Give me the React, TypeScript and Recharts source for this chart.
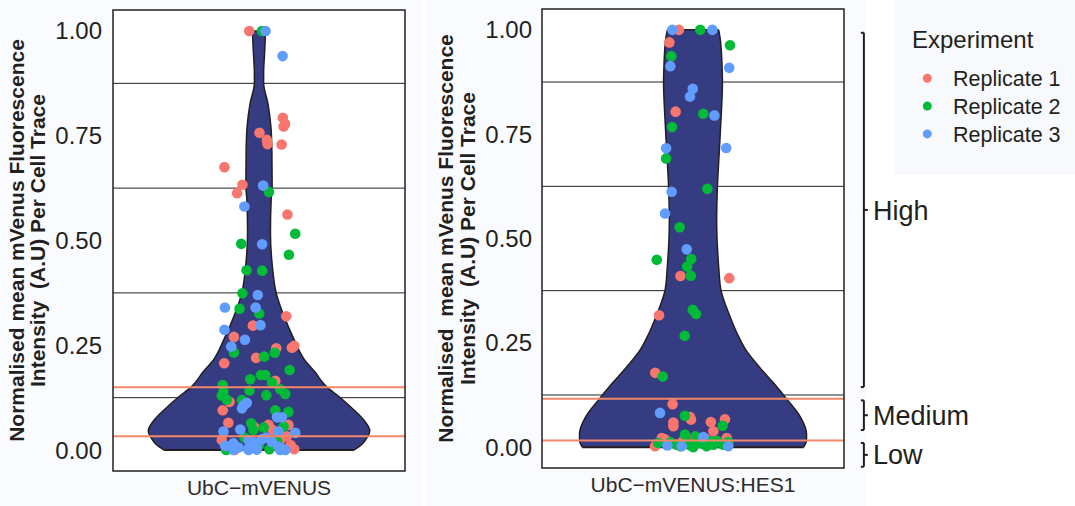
import React from 'react';
import { ComposedChart, Area, Scatter, XAxis, YAxis, ReferenceLine, ReferenceArea, Legend } from 'recharts';

const FONT = '"Liberation Sans", Arial, Helvetica, sans-serif';
const INK = '#231f20';
const VIOLIN_FILL = '#363c82';
const GATE = '#f4866a';
const PAGE_BG = '#f9fbfe';

const categories = ['UbC\u2212mVENUS', 'UbC\u2212mVENUS:HES1'];
const replicateNames = ['Replicate 1', 'Replicate 2', 'Replicate 3'];
const replicateColors = ['#F8766D', '#00BA38', '#619CFF'];
const yTicks = [0, 0.25, 0.5, 0.75, 1];
const thresholdLines = [0.125, 0.375, 0.625, 0.875];
const gateLines1 = [0.15, 0.033];
const gateLines2 = [0.116, 0.016];
const bands = [
  { name: 'High', from: 0.144, to: 0.993 },
  { name: 'Medium', from: 0.041, to: 0.112 },
  { name: 'Low', from: -0.047, to: 0.01 },
];

// violin outlines: [value, half width (category units)]
const violin1: [number, number][] = [
  [1.0, 0.026], [0.995, 0.026], [0.948, 0.023], [0.9, 0.019], [0.875, 0.019],
  [0.829, 0.036], [0.771, 0.049], [0.71, 0.053], [0.629, 0.054], [0.598, 0.05],
  [0.519, 0.047], [0.438, 0.055], [0.376, 0.07], [0.319, 0.103], [0.264, 0.144],
  [0.217, 0.185], [0.186, 0.23], [0.152, 0.276], [0.126, 0.332], [0.098, 0.386],
  [0.074, 0.427], [0.046, 0.455], [0.026, 0.44], [0.012, 0.42], [0.0, 0.39],
];
const violin2: [number, number][] = [
  [1.0, 0.102], [0.975, 0.109], [0.903, 0.116], [0.875, 0.117], [0.783, 0.111],
  [0.704, 0.104], [0.624, 0.097], [0.544, 0.094], [0.433, 0.102], [0.376, 0.111],
  [0.353, 0.122], [0.313, 0.147], [0.273, 0.175], [0.233, 0.21], [0.191, 0.265],
  [0.153, 0.321], [0.112, 0.377], [0.072, 0.427], [0.033, 0.451], [0.017, 0.451],
  [0.0, 0.44],
];

// points: [jitter offset (category units), value]
const p1rep1: [number, number][] = [
  [-0.04, 1.0], [0.098, 0.793], [0.107, 0.778], [0.101, 0.772], [0.002, 0.757],
  [0.032, 0.74], [0.035, 0.73], [0.093, 0.729], [-0.142, 0.675], [-0.068, 0.633],
  [-0.09, 0.613], [0.117, 0.562], [0.112, 0.319], [-0.025, 0.297], [-0.103, 0.27],
  [0.071, 0.243], [0.145, 0.249], [0.135, 0.244], [-0.012, 0.22], [-0.143, 0.207],
  [0.067, 0.165], [-0.121, 0.115], [-0.149, 0.095], [-0.126, 0.065], [0.039, 0.06],
  [0.121, 0.06], [0.057, 0.048], [0.115, 0.033], [-0.153, 0.024], [0.09, 0.026],
  [-0.118, 0.004], [0.145, 0.002], [-0.1, 0.0], [0.13, 0.012], [-0.02, 0.055],
];
const p1rep2: [number, number][] = [
  [0.012, 1.0], [0.041, 0.616], [0.149, 0.516], [-0.073, 0.492], [0.123, 0.466],
  [-0.051, 0.429], [0.013, 0.428], [-0.068, 0.374], [-0.08, 0.337], [0.001, 0.326],
  [-0.103, 0.233], [0.065, 0.232], [0.021, 0.223], [0.126, 0.191], [-0.036, 0.169],
  [0.008, 0.179], [0.026, 0.179], [0.053, 0.161], [-0.149, 0.155], [-0.146, 0.139],
  [-0.039, 0.142], [0.087, 0.145], [0.108, 0.134], [0.03, 0.131], [-0.153, 0.13],
  [-0.132, 0.12], [-0.07, 0.119], [0.067, 0.095], [0.121, 0.091], [-0.032, 0.064],
  [0.019, 0.054], [0.101, 0.056], [-0.023, 0.048], [-0.135, 0.0], [0.043, 0.002],
  [-0.06, 0.03], [0.075, 0.02], [0.0, 0.012],
];
const p1rep3: [number, number][] = [
  [0.027, 1.0], [0.097, 0.94], [0.017, 0.631], [-0.06, 0.581], [0.013, 0.491],
  [-0.005, 0.37], [-0.14, 0.34], [-0.014, 0.34], [0.006, 0.298], [-0.142, 0.287],
  [-0.058, 0.263], [-0.114, 0.247], [-0.05, 0.113], [-0.07, 0.1], [-0.06, 0.108],
  [0.074, 0.078], [0.094, 0.078], [-0.146, 0.044], [-0.077, 0.049], [0.08, 0.044],
  [0.149, 0.041], [-0.105, 0.016], [-0.043, 0.024], [0.012, 0.026], [0.053, 0.02],
  [-0.139, 0.01], [-0.084, 0.006], [-0.043, 0.004], [-0.009, 0.006], [0.08, 0.008],
  [0.101, 0.002], [-0.043, 0.0], [-0.009, 0.001], [0.087, 0.0], [0.108, 0.0],
  [-0.105, 0.0], [0.03, 0.03], [-0.02, 0.018],
];
const p2rep1: [number, number][] = [
  [-0.056, 1.0], [-0.094, 0.97], [-0.069, 0.804], [-0.05, 0.41], [0.144, 0.405],
  [-0.135, 0.316], [-0.15, 0.178], [-0.081, 0.103], [-0.012, 0.072], [-0.008, 0.066],
  [-0.078, 0.059], [-0.078, 0.05], [0.071, 0.06], [0.127, 0.067], [0.081, 0.038],
  [-0.124, 0.022], [-0.151, 0.002], [0.008, 0.024], [0.134, 0.022], [-0.11, 0.018],
  [0.05, 0.02], [-0.04, 0.014],
];
const p2rep2: [number, number][] = [
  [0.029, 1.0], [0.147, 0.963], [-0.086, 0.937], [0.041, 0.799], [-0.083, 0.767],
  [-0.107, 0.692], [0.057, 0.619], [-0.053, 0.527], [-0.144, 0.449], [-0.007, 0.451],
  [-0.023, 0.433], [-0.009, 0.411], [-0.001, 0.329], [0.012, 0.319], [-0.033, 0.267],
  [-0.12, 0.169], [-0.032, 0.075], [0.118, 0.051], [-0.032, 0.03], [-0.138, 0.01],
  [-0.023, 0.01], [0.028, 0.01], [0.081, 0.006], [0.12, 0.006], [0.054, 0.002],
  [0.001, 0.0], [-0.065, 0.006], [-0.09, 0.012], [0.015, 0.02], [0.095, 0.015],
  [-0.01, 0.004], [0.04, 0.008], [0.14, 0.012], [-0.05, 0.002], [0.07, 0.014],
  [0.01, 0.026],
];
const p2rep3: [number, number][] = [
  [-0.082, 1.0], [0.077, 1.0], [-0.09, 0.913], [0.144, 0.909], [-0.001, 0.859],
  [-0.012, 0.84], [0.085, 0.795], [-0.107, 0.716], [0.132, 0.717], [-0.085, 0.612],
  [-0.111, 0.56], [-0.025, 0.474], [-0.131, 0.082], [0.041, 0.024], [-0.102, 0.004],
  [-0.045, 0.002], [0.14, 0.002],
];

const CAT = 1;
const toPoints = (arr: [number, number][]) => arr.map(([j, y]) => ({ x: CAT + j, y }));
const toViolin = (arr: [number, number][]) => arr.map(([y, w]) => ({ y, w: [CAT - w, CAT + w] }));

const Dot = (props: any) => <circle cx={props.cx} cy={props.cy} r={5.3} fill={props.fill} />;

function ViolinPanel(props: any) {
  const { width, height, margin, yAxisWidth, tickMargin, violin, reps, gates, category, children } = props;
  const vdata = toViolin(violin);
  const top = violin[0];
  const bottom = violin[violin.length - 1];
  return (
    <ComposedChart layout="vertical" width={width} height={height} margin={margin} data={vdata}>
      <ReferenceArea x1={0.4} x2={1.6} y1={-0.05} y2={1.05} fill="#ffffff" fillOpacity={1} stroke="none" zIndex={-60} />
      <XAxis
        type="number" dataKey="x" domain={[0.4, 1.6]} allowDataOverflow ticks={[CAT]} interval={0}
        tickFormatter={() => category} tickLine={false} axisLine={false} height={30} tickMargin={3}
        tick={{ fill: '#2e2a2a', fontSize: 21 }}
      />
      <YAxis
        type="number" dataKey="y" domain={[-0.05, 1.05]} allowDataOverflow ticks={yTicks} interval={0}
        reversed
        tickFormatter={(v: number) => v.toFixed(2)} tickLine={false} axisLine={false}
        width={yAxisWidth} tickMargin={tickMargin} tick={{ fill: INK, fontSize: 24 }}
      />
      {thresholdLines.map((v) => (
        <ReferenceLine key={'t' + v} y={v} stroke={INK} strokeWidth={1} zIndex={-10} />
      ))}
      <Area
        dataKey="w" type="monotone" fill={VIOLIN_FILL} fillOpacity={1} stroke={INK} strokeWidth={1.5}
        isAnimationActive={false} legendType="none" dot={false} activeDot={false}
      />
      <ReferenceLine segment={[{ x: CAT - top[1], y: top[0] }, { x: CAT + top[1], y: top[0] }]} stroke={INK} strokeWidth={1.5} zIndex={150} />
      <ReferenceLine segment={[{ x: CAT - bottom[1], y: bottom[0] }, { x: CAT + bottom[1], y: bottom[0] }]} stroke={INK} strokeWidth={2} zIndex={150} />
      {reps.map((pts: any, i: number) => (
        <Scatter
          key={replicateNames[i]} name={replicateNames[i]} data={pts} fill={replicateColors[i]}
          shape={Dot} isAnimationActive={false} legendType="circle"
        />
      ))}
      {gates.map((v: number) => (
        <ReferenceLine key={'g' + v} y={v} stroke={GATE} strokeWidth={2} zIndex={700} />
      ))}
      <ReferenceArea x1={0.4} x2={1.6} y1={-0.05} y2={1.05} fill="none" fillOpacity={0} stroke={INK} strokeWidth={1.5} zIndex={800} />
      {children}
    </ComposedChart>
  );
}

const LegendBox = (props: any) => {
  const fromChart = props && props.payload ? props.payload.filter((it: any) => it.type !== 'none' && replicateNames.includes(it.value)) : [];
  const payload = fromChart.length
    ? fromChart
    : replicateNames.map((n, i) => ({ value: n, color: replicateColors[i] }));
  return (
    <svg width={180} height={175} style={{ display: 'block' }}>
      <rect width={180} height={175} fill="#f7f9fc" />
      <text x={17} y={48} fontSize={24} fill={INK}>Experiment</text>
      {payload.map((it: any, i: number) => (
        <g key={i}>
          <circle cx={32.3} cy={78.3 + i * 27.8} r={4.5} fill={it.color} />
          <text x={58} y={86 + i * 27.8} fontSize={21.5} fill={INK}>{it.value}</text>
        </g>
      ))}
    </svg>
  );
};

const BX = 1.679;
const HOOK = 0.012;
const TICK = 0.016;

export default function App() {
  const bracketEls: any[] = [];
  bands.forEach((b) => {
    const mid = (b.from + b.to) / 2;
    const common = { stroke: INK, strokeWidth: 2, ifOverflow: 'visible' as const };
    bracketEls.push(<ReferenceLine key={b.name + 'v'} segment={[{ x: BX, y: b.from }, { x: BX, y: b.to }]} {...common} />);
    bracketEls.push(<ReferenceLine key={b.name + 't'} segment={[{ x: BX - HOOK, y: b.to }, { x: BX, y: b.to }]} {...common} />);
    bracketEls.push(<ReferenceLine key={b.name + 'b'} segment={[{ x: BX - HOOK, y: b.from }, { x: BX, y: b.from }]} {...common} />);
    bracketEls.push(
      <ReferenceLine
        key={b.name + 'm'} segment={[{ x: BX, y: mid }, { x: BX + TICK, y: mid }]} {...common}
        label={{ value: b.name, position: 'right', offset: 5, fontSize: 27, fill: INK }}
      />
    );
  });

  return (
    <div style={{ position: 'absolute', left: 0, top: 0, width: 1075, height: 506, background: PAGE_BG, fontFamily: FONT, overflow: 'hidden' }}>
      <div style={{ position: 'absolute', left: 421, top: 0, width: 6, height: 506, background: '#ffffff' }} />
      <div style={{ position: 'absolute', left: 866, top: 0, width: 209, height: 506, background: '#ffffff' }} />
      <div style={{ position: 'absolute', left: 0, top: 0 }}>
        <ViolinPanel
          width={415} height={506} margin={{ top: 10, right: 10, bottom: 5, left: 0 }}
          yAxisWidth={113} tickMargin={5} violin={violin1}
          reps={[toPoints(p1rep1), toPoints(p1rep2), toPoints(p1rep3)]}
          gates={gateLines1} category={categories[0]}
        />
      </div>
      <div style={{ position: 'absolute', left: 420, top: 0 }}>
        <ViolinPanel
          width={655} height={506} margin={{ top: 9, right: 231, bottom: 8, left: 0 }}
          yAxisWidth={122} tickMargin={4} violin={violin2}
          reps={[toPoints(p2rep1), toPoints(p2rep2), toPoints(p2rep3)]}
          gates={gateLines2} category={categories[1]}
        >
          {bracketEls}
          <Legend
            layout="vertical" align="center" verticalAlign="middle" content={LegendBox}
            wrapperStyle={{ left: 475, top: 0, width: 180, height: 175 }}
          />
        </ViolinPanel>
      </div>
      <svg width={1075} height={506} style={{ position: 'absolute', left: 0, top: 0, pointerEvents: 'none' }}>
        <g fontSize={21} fontWeight="bold" fill={INK} textAnchor="middle" style={{ whiteSpace: 'pre' }}>
          <text xmlSpace="preserve" transform="translate(23.5,240.5) rotate(-90)">Normalised mean mVenus Fluorescence</text>
          <text xmlSpace="preserve" transform="translate(45,240.5) rotate(-90)">Intensity  (A.U) Per Cell Trace</text>
          <text xmlSpace="preserve" transform="translate(453,238.5) rotate(-90)">Normalised  mean mVenus Fluorescence</text>
          <text xmlSpace="preserve" transform="translate(475,238.5) rotate(-90)">Intensity  (A.U) Per Cell Trace</text>
        </g>
      </svg>
    </div>
  );
}
